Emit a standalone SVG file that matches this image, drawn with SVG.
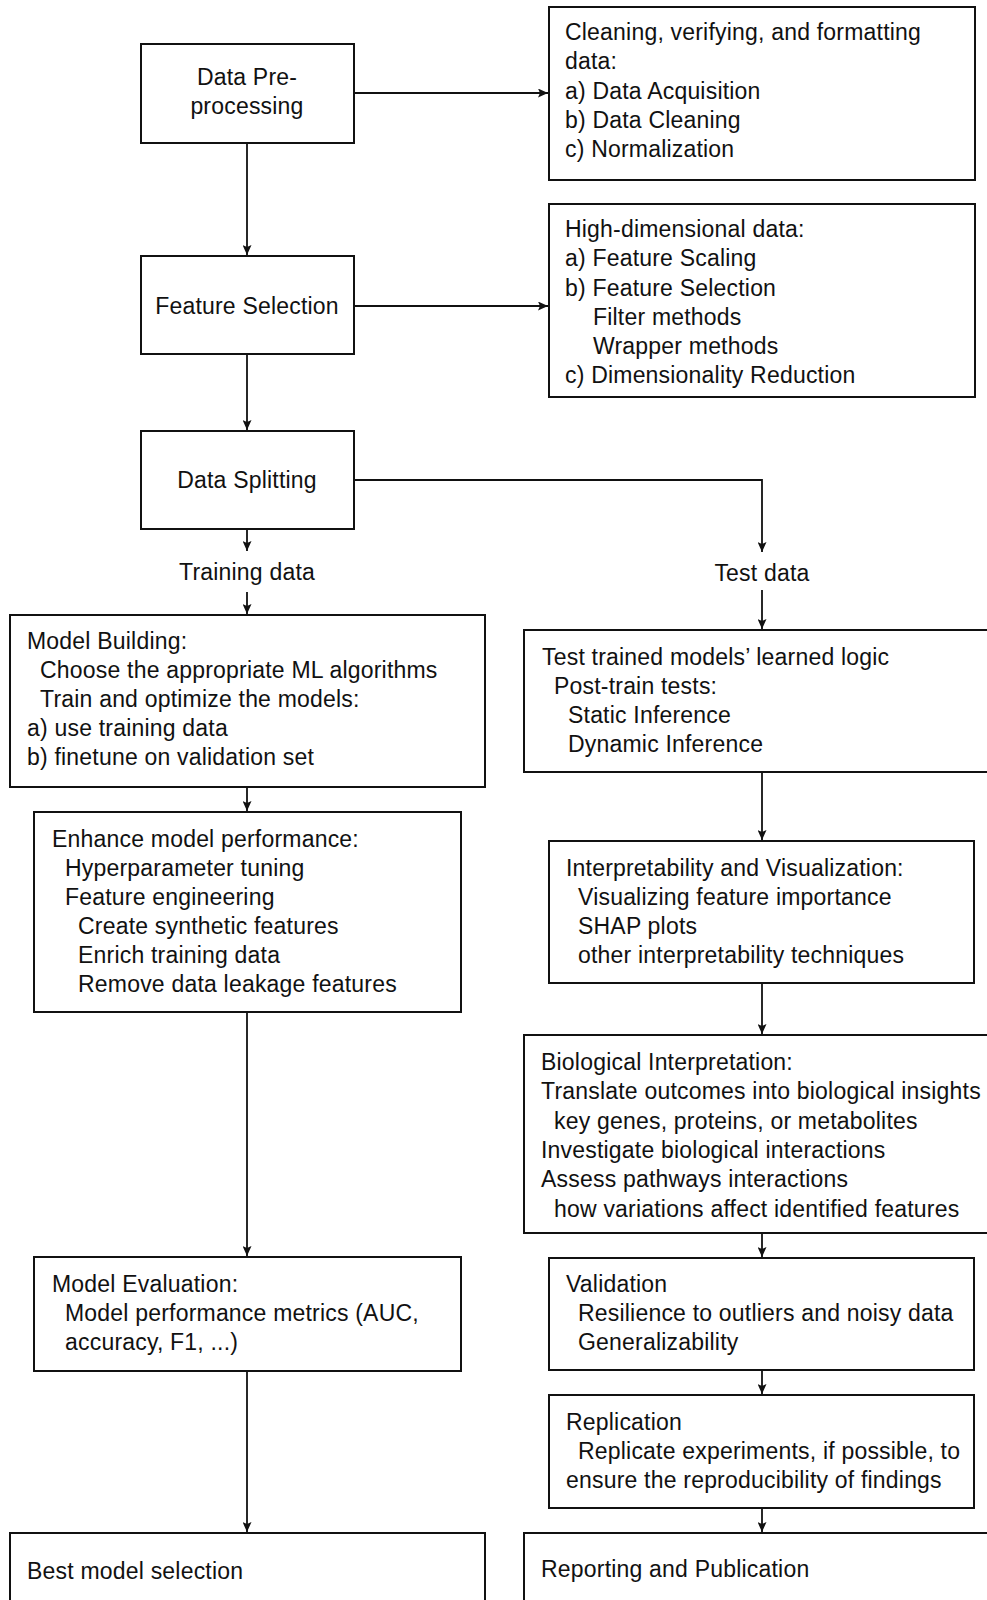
<svg xmlns="http://www.w3.org/2000/svg" width="987" height="1600" viewBox="0 0 987 1600">
<style>
.box{fill:#fff;stroke:#111;stroke-width:2}
.t{font-family:"Liberation Sans",Arial,sans-serif;font-size:23px;letter-spacing:0.2px;fill:#111}
.c{text-anchor:middle}
.conn{fill:none;stroke:#111;stroke-width:1.8}
</style>
<defs>
<marker id="ah" viewBox="0 0 10 9" markerWidth="10" markerHeight="9" refX="10" refY="4.5" orient="auto" markerUnits="userSpaceOnUse">
<path d="M0,0 L10,4.5 L0,9 L2,4.5 Z" fill="#111"/>
</marker>
</defs>
<rect width="987" height="1600" fill="#fff"/>

<g id="connectors">
<path class="conn" d="M354,93 H548" marker-end="url(#ah)"/>
<path class="conn" d="M247,143 V255" marker-end="url(#ah)"/>
<path class="conn" d="M354,306 H548" marker-end="url(#ah)"/>
<path class="conn" d="M247,354 V430" marker-end="url(#ah)"/>
<path class="conn" d="M247,529 V551" marker-end="url(#ah)"/>
<path class="conn" d="M247,592 V614" marker-end="url(#ah)"/>
<path class="conn" d="M354,480 H762 V552" marker-end="url(#ah)"/>
<path class="conn" d="M762,590 V629" marker-end="url(#ah)"/>
<path class="conn" d="M762,772 V840" marker-end="url(#ah)"/>
<path class="conn" d="M762,983 V1034" marker-end="url(#ah)"/>
<path class="conn" d="M762,1233 V1257" marker-end="url(#ah)"/>
<path class="conn" d="M762,1370 V1394" marker-end="url(#ah)"/>
<path class="conn" d="M762,1508 V1532" marker-end="url(#ah)"/>
<path class="conn" d="M247,787 V811" marker-end="url(#ah)"/>
<path class="conn" d="M247,1012 V1256" marker-end="url(#ah)"/>
<path class="conn" d="M247,1371 V1532" marker-end="url(#ah)"/>
</g>

<g id="preprocessing">
<rect class="box" x="141" y="44" width="213" height="99"/>
<text class="t c" x="247" y="85">Data Pre-</text>
<text class="t c" x="247" y="114">processing</text>
</g>

<g id="cleaning">
<rect class="box" x="549" y="7" width="426" height="173"/>
<text class="t" x="565" y="40">Cleaning, verifying, and formatting</text>
<text class="t" x="565" y="69">data:</text>
<text class="t" x="565" y="99">a) Data Acquisition</text>
<text class="t" x="565" y="128">b) Data Cleaning</text>
<text class="t" x="565" y="157">c) Normalization</text>
</g>

<g id="feature-selection">
<rect class="box" x="141" y="256" width="213" height="98"/>
<text class="t c" x="247" y="314">Feature Selection</text>
</g>

<g id="high-dim">
<rect class="box" x="549" y="204" width="426" height="193"/>
<text class="t" x="565" y="237">High-dimensional data:</text>
<text class="t" x="565" y="266">a) Feature Scaling</text>
<text class="t" x="565" y="296">b) Feature Selection</text>
<text class="t" x="593" y="325">Filter methods</text>
<text class="t" x="593" y="354">Wrapper methods</text>
<text class="t" x="565" y="383">c) Dimensionality Reduction</text>
</g>

<g id="data-splitting">
<rect class="box" x="141" y="431" width="213" height="98"/>
<text class="t c" x="247" y="488">Data Splitting</text>
</g>

<g id="training-data">
<text class="t c" x="247" y="580">Training data</text>
</g>

<g id="test-data">
<text class="t c" x="762" y="581">Test data</text>
</g>

<g id="model-building">
<rect class="box" x="10" y="615" width="475" height="172"/>
<text class="t" x="27" y="649">Model Building:</text>
<text class="t" x="40" y="678">Choose the appropriate ML algorithms</text>
<text class="t" x="40" y="707">Train and optimize the models:</text>
<text class="t" x="27" y="736">a) use training data</text>
<text class="t" x="27" y="765">b) finetune on validation set</text>
</g>

<g id="enhance">
<rect class="box" x="34" y="812" width="427" height="200"/>
<text class="t" x="52" y="847">Enhance model performance:</text>
<text class="t" x="65" y="876">Hyperparameter tuning</text>
<text class="t" x="65" y="905">Feature engineering</text>
<text class="t" x="78" y="934">Create synthetic features</text>
<text class="t" x="78" y="963">Enrich training data</text>
<text class="t" x="78" y="992">Remove data leakage features</text>
</g>

<g id="model-evaluation">
<rect class="box" x="34" y="1257" width="427" height="114"/>
<text class="t" x="52" y="1292">Model Evaluation:</text>
<text class="t" x="65" y="1321">Model performance metrics (AUC,</text>
<text class="t" x="65" y="1350">accuracy, F1, ...)</text>
</g>

<g id="best-model">
<rect class="box" x="10" y="1533" width="475" height="80"/>
<text class="t" x="27" y="1579">Best model selection</text>
</g>

<g id="test-trained">
<rect class="box" x="524" y="630" width="480" height="142"/>
<text class="t" x="542" y="665">Test trained models’ learned logic</text>
<text class="t" x="554" y="694">Post-train tests:</text>
<text class="t" x="568" y="723">Static Inference</text>
<text class="t" x="568" y="752">Dynamic Inference</text>
</g>

<g id="interpretability">
<rect class="box" x="549" y="841" width="425" height="142"/>
<text class="t" x="566" y="876">Interpretability and Visualization:</text>
<text class="t" x="578" y="905">Visualizing feature importance</text>
<text class="t" x="578" y="934">SHAP plots</text>
<text class="t" x="578" y="963">other interpretability techniques</text>
</g>

<g id="biological">
<rect class="box" x="524" y="1035" width="480" height="198"/>
<text class="t" x="541" y="1070">Biological Interpretation:</text>
<text class="t" x="541" y="1099">Translate outcomes into biological insights</text>
<text class="t" x="554" y="1129">key genes, proteins, or metabolites</text>
<text class="t" x="541" y="1158">Investigate biological interactions</text>
<text class="t" x="541" y="1187">Assess pathways interactions</text>
<text class="t" x="554" y="1217">how variations affect identified features</text>
</g>

<g id="validation">
<rect class="box" x="549" y="1258" width="425" height="112"/>
<text class="t" x="566" y="1292">Validation</text>
<text class="t" x="578" y="1321">Resilience to outliers and noisy data</text>
<text class="t" x="578" y="1350">Generalizability</text>
</g>

<g id="replication">
<rect class="box" x="549" y="1395" width="425" height="113"/>
<text class="t" x="566" y="1430">Replication</text>
<text class="t" x="578" y="1459">Replicate experiments, if possible, to</text>
<text class="t" x="566" y="1488">ensure the reproducibility of findings</text>
</g>

<g id="reporting">
<rect class="box" x="524" y="1533" width="480" height="80"/>
<text class="t" x="541" y="1577">Reporting and Publication</text>
</g>
</svg>
